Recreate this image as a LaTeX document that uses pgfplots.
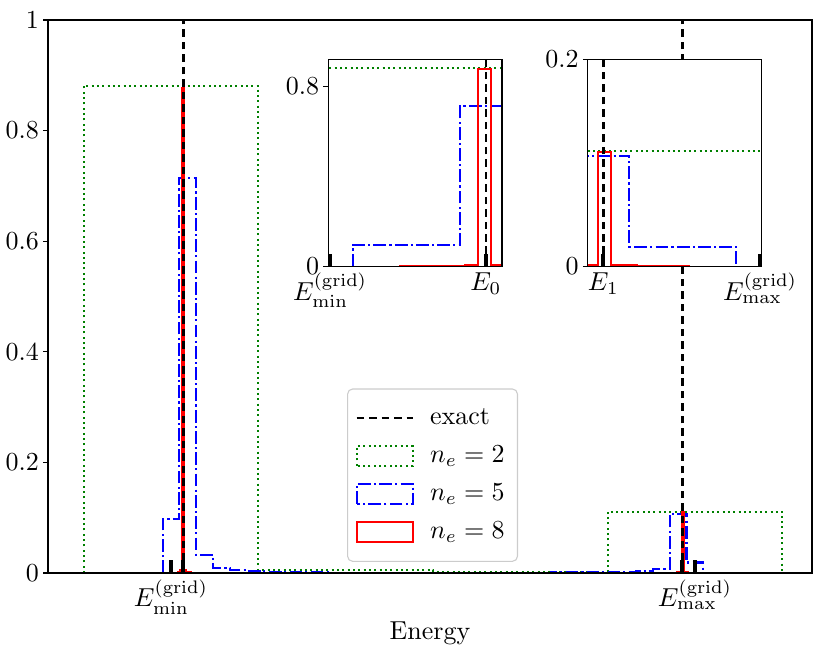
\documentclass[border=0pt]{standalone}
\usepackage{pgfplots}
\usepackage{pgfplotstable}
\pgfplotsset{compat=1.18}

\definecolor{mplgreen}{rgb}{0,0.5,0}

% step outlines, one row per bin: left edge, bin height
\pgfplotstableread{
x y
83.67 0
83.67 0.881
258.33 0.0055
433.00 0.0025
607.67 0.111
782.33 0
}\negrid

\pgfplotstableread{
x y
162.55 0
162.55 0.097
179.45 0.714
196.35 0.032
213.26 0.009
230.16 0.005
247.06 0.003
263.97 0.002
280.87 0.0015
297.77 0.0012
314.68 0.001
331.58 0.0008
348.48 0.0007
365.39 0.0006
382.29 0.0005
399.19 0.0005
416.10 0.0005
433.00 0.0005
449.90 0.0005
466.81 0.0005
483.71 0.0005
500.61 0.0006
517.52 0.0007
534.42 0.0008
551.32 0.001
568.23 0.0012
585.13 0.0015
602.03 0.002
618.94 0.0025
635.84 0.004
652.74 0.007
669.65 0.107
686.55 0.019
703.45 0
}\nefive

\pgfplotstableread{
x y
169.97 0
169.97 0.0005
178.19 0.002
180.25 0.005
182.30 0.877
184.36 0.005
186.41 0.002
188.47 0.001
190.52 0.0005
200.79 0.0003
663.15 0.0005
675.48 0.0008
677.53 0.001
679.59 0.0015
681.64 0.110
683.70 0.0015
685.75 0.001
687.80 0.0005
696.03 0
}\neeight

\pgfplotsset{
  common/.style={
    scale only axis, axis on top,
    tick pos=left, tick align=inside,
    axis line style={draw=none},
    after end axis/.code={\draw[black, line width=0.42pt] (rel axis cs:0,0) rectangle (rel axis cs:1,1);},
    xtick style={black, line width=1.54pt, /pgfplots/major tick length=5pt},
    ytick style={black, line width=0.42pt, /pgfplots/major tick length=1.9pt, xshift=-1.9pt},
    xticklabel style={yshift=1pt},
    minor tick num=0,
  },
  ne2/.style={mplgreen, line width=0.8pt, dash pattern=on 0.77pt off 1.28pt},
  ne5/.style={blue, line width=0.8pt, dash pattern=on 4.9pt off 1.25pt on 0.8pt off 1.25pt},
  ne8/.style={red, line width=0.8pt, solid},
  exactline/.style={black, line width=1.0pt, dash pattern=on 2.9pt off 1.9pt},
  boxlegend/.style={legend image code/.code={\draw[##1, sharp corners] (0pt,-3.85pt) rectangle (21.6pt,3.85pt);}},
  linelegend/.style={legend image code/.code={\draw[##1] (0pt,0pt) -- (21.6pt,0pt);}},
}

\begin{document}
\begin{tikzpicture}
\useasboundingbox (-18.48pt,-32.34pt) rectangle (301.07pt,220.6pt);

% main axis
\begin{axis}[
  common,
  at={(0pt,0pt)}, anchor=south west,
  width=294.14pt, height=212.9pt,
  xmin=48, xmax=812, ymin=0, ymax=1,
  xtick={171,183.5,682.45,695},
  xticklabels={$E_{\mathrm{min}}^{(\mathrm{grid})}$,,,$E_{\mathrm{max}}^{(\mathrm{grid})}$},
  ytick={0,0.2,0.4,0.6,0.8,1},
  xlabel={Energy},
  xlabel style={yshift=4pt},
  legend cell align=left,
  legend style={at={(axis description cs:0.3914,0.02)}, anchor=south west,
    draw=black!20, line width=0.42pt, rounded corners=2pt, fill=white,
    inner xsep=3pt, inner ysep=5.4pt, row sep=2.7pt,
    /tikz/every odd column/.append style={column sep=4.2pt}},
]
\addlegendimage{exactline, linelegend}
\addlegendentry{exact}
\addlegendimage{ne2, boxlegend}
\addlegendentry{$n_e=2$}
\addlegendimage{ne5, boxlegend}
\addlegendentry{$n_e=5$}
\addlegendimage{ne8, boxlegend}
\addlegendentry{$n_e=8$}

\addplot[ne2, const plot mark left, forget plot] table {\negrid};
\addplot[ne5, const plot mark left, forget plot] table {\nefive};
\addplot[ne8, const plot mark left, forget plot] table {\neeight};
\addplot[exactline, forget plot] coordinates {(183.5,0) (183.5,1)};
\addplot[exactline, forget plot] coordinates {(682.45,0) (682.45,1)};
\end{axis}

% inset round the ground state
\begin{axis}[
  common,
  at={(107.9pt,118.0pt)}, anchor=south west,
  width=66.9pt, height=79.85pt,
  axis background/.style={fill=white},
  xmin=158.70, xmax=186.05, ymin=0, ymax=0.921,
  xtick={159.0,183.5},
  xticklabels={$E_{\mathrm{min}}^{(\mathrm{grid})}$,$E_0$},
  ytick={0,0.8},
]
\addplot[ne2, const plot mark left] table {\negrid};
\addplot[ne5, const plot mark left] table {\nefive};
\addplot[ne8, const plot mark left] table {\neeight};
\addplot[exactline] coordinates {(183.5,0) (183.5,0.921)};
\end{axis}

% inset round the first excited state
\begin{axis}[
  common,
  at={(207.8pt,118.0pt)}, anchor=south west,
  width=66.9pt, height=79.85pt,
  axis background/.style={fill=white},
  xmin=679.99, xmax=707.43, ymin=0, ymax=0.2,
  xtick={682.45,707.2},
  xticklabels={$E_1$,$E_{\mathrm{max}}^{(\mathrm{grid})}$},
  ytick={0,0.2},
]
\addplot[ne2, const plot mark left] table {\negrid};
\addplot[ne5, const plot mark left] table {\nefive};
\addplot[ne8, const plot mark left] table {\neeight};
\addplot[exactline] coordinates {(682.45,0) (682.45,0.2)};
\end{axis}
\end{tikzpicture}
\end{document}
